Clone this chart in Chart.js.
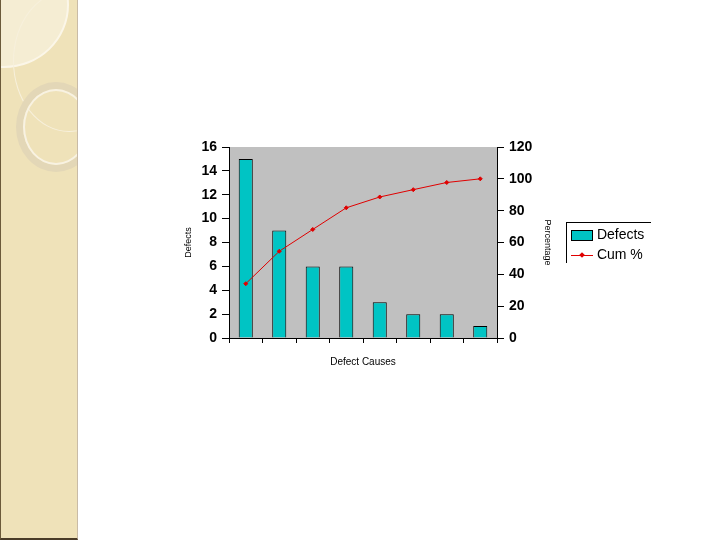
<!DOCTYPE html>
<html>
<head>
<meta charset="utf-8">
<script src="https://cdn.jsdelivr.net/npm/chart.js@4.4.0/dist/chart.umd.min.js"></script>
<style>
  body { margin: 0; width: 720px; height: 540px; background: #fff; position: relative; overflow: hidden; font-family: "Liberation Sans", Arial, sans-serif; }
  #strip { position: absolute; left: 0; top: 0; width: 78px; height: 540px; background: #efe2b9; border-right: 1px solid #c9bba6; border-left: 1px solid #6b5a3a; border-bottom: 2px solid #4a3c28; box-sizing: border-box; overflow: hidden; }
  #strip .glow { position: absolute; left: -62px; top: -58px; width: 126px; height: 122px; border-radius: 50%; background: #f5edd3; border: 2px solid #fbf6e8; }
  #strip .arc { position: absolute; left: 12px; top: -10px; width: 110px; height: 140px; border-radius: 50%; border: 1px solid #f7f0dc; }
  #strip .ring { position: absolute; left: 15px; top: 82px; width: 80px; height: 90px; border-radius: 50%; border: 7px solid #e3d7b7; box-sizing: border-box; }
  #strip .ring2 { position: absolute; left: 22px; top: 89px; width: 66px; height: 76px; border-radius: 50%; border: 2px solid #f8f2e2; box-sizing: border-box; }
  #wrap { position: absolute; left: 0; top: 0; width: 720px; height: 540px; }
  #legend { position: absolute; left: 566px; top: 222px; width: 84px; height: 40px; border-top: 1px solid #000; border-left: 1px solid #000; font-size: 14px; color: #000; }
  #legend .row { position: absolute; left: 4px; height: 16px; line-height: 16px; }
  #legend .sw { display: inline-block; vertical-align: middle; }
</style>
</head>
<body>
<div id="strip"><div class="glow"></div><div class="arc"></div><div class="ring"></div><div class="ring2"></div></div>
<div id="wrap"><canvas id="chart" width="720" height="540"></canvas></div>
<div id="legend">
  <div class="row" style="top:3px;"><span class="sw" style="width:20px;height:9px;background:#00c4c4;border:1px solid #000;"></span> Defects</div>
  <div class="row" style="top:23px;"><span class="sw" style="width:22px;height:1px;background:#e00000;position:relative;"><span style="position:absolute;left:9px;top:-2px;width:4px;height:4px;background:#e00000;transform:rotate(45deg);"></span></span> Cum %</div>
</div>
<script>
// Pareto chart data
const causes = ['Cause 1', 'Cause 2', 'Cause 3', 'Cause 4', 'Cause 5', 'Cause 6', 'Cause 7', 'Cause 8'];
const defects = [15, 9, 6, 6, 3, 2, 2, 1];
const cumPercent = [34.1, 54.5, 68.2, 81.8, 88.6, 93.2, 97.7, 100];

const plotBackground = {
    id: 'plotBackground',
    beforeDraw(chart) {
        const { ctx, chartArea } = chart;
        ctx.save();
        ctx.fillStyle = '#c0c0c0';
        ctx.fillRect(chartArea.left, chartArea.top, chartArea.width, chartArea.height);
        ctx.restore();
    }
};

const tickFont = { family: 'Liberation Sans', size: 14, weight: 'bold' };

new Chart(document.getElementById('chart'), {
    type: 'bar',
    data: {
        labels: causes,
        datasets: [{
            label: 'Defects',
            data: defects,
            backgroundColor: '#00c4c4',
            borderColor: '#000',
            borderWidth: 1,
            barPercentage: 0.42,
            categoryPercentage: 1,
            yAxisID: 'y',
            order: 2
        }, {
            type: 'line',
            label: 'Cum %',
            data: cumPercent,
            borderColor: '#e00000',
            backgroundColor: '#e00000',
            borderWidth: 1,
            pointRadius: 2,
            pointStyle: 'rectRot',
            yAxisID: 'y1',
            order: 1
        }]
    },
    options: {
        responsive: false,
        animation: false,
        layout: { padding: { left: 179, right: 163, top: 147, bottom: 168 } },
        plugins: { legend: { display: false }, tooltip: { enabled: false } },
        scales: {
            x: {
                grid: { drawOnChartArea: false, tickLength: 5, color: '#000' },
                border: { color: '#000' },
                ticks: { callback: () => '', font: { size: 1 } },
                title: { display: true, text: 'Defect Causes', color: '#000', font: { family: 'Liberation Sans', size: 10 }, padding: { top: 18 } },
                afterFit: (scale) => { scale.height = 34; }
            },
            y: {
                position: 'left',
                min: 0, max: 16,
                ticks: { stepSize: 2, color: '#000', font: tickFont, padding: 5 },
                grid: { drawOnChartArea: false, tickLength: 7, color: '#000' },
                border: { color: '#000' },
                title: { display: true, text: 'Defects', color: '#000', font: { family: 'Liberation Sans', size: 9 } },
                afterFit: (scale) => { scale.width = 50; }
            },
            y1: {
                position: 'right',
                min: 0, max: 120,
                ticks: { stepSize: 20, color: '#000', font: tickFont, padding: 5 },
                grid: { drawOnChartArea: false, tickLength: 7, color: '#000' },
                border: { color: '#000' },
                title: { display: true, text: 'Percentage', color: '#000', font: { family: 'Liberation Sans', size: 9 } },
                afterFit: (scale) => { scale.width = 60; }
            }
        }
    },
    plugins: [plotBackground]
});
</script>
</body>
</html>
